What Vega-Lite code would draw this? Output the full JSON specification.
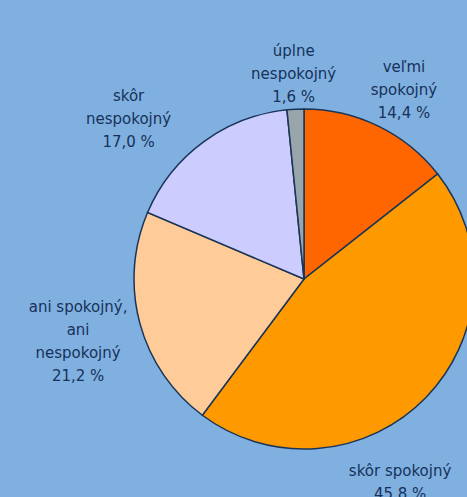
{
  "$schema": "https://vega.github.io/schema/vega-lite/v6.json",
  "width": 608,
  "height": 558,
  "autosize": "none",
  "padding": 0,
  "background": "#80B0E0",
  "view": {"stroke": null},
  "data": {
    "values": [
      {"hodnotenie": "veľmi spokojný", "podiel": 14.4, "poradie": 1, "popis": "veľmi\nspokojný\n14,4 %"},
      {"hodnotenie": "skôr spokojný", "podiel": 45.8, "poradie": 2, "popis": "skôr spokojný\n45,8 %"},
      {"hodnotenie": "ani spokojný, ani nespokojný", "podiel": 21.2, "poradie": 3, "popis": "ani spokojný,\nani\nnespokojný\n21,2 %"},
      {"hodnotenie": "skôr nespokojný", "podiel": 17.0, "poradie": 4, "popis": "skôr\nnespokojný\n17,0 %"},
      {"hodnotenie": "úplne nespokojný", "podiel": 1.6, "poradie": 5, "popis": "úplne\nnespokojný\n1,6 %"}
    ]
  },
  "encoding": {
    "theta": {"field": "podiel", "type": "quantitative", "stack": true},
    "order": {"field": "poradie", "type": "quantitative"}
  },
  "layer": [
    {
      "mark": {"type": "arc", "outerRadius": 170, "stroke": "#1A3557", "strokeWidth": 1.5},
      "encoding": {
        "color": {
          "field": "hodnotenie",
          "type": "nominal",
          "scale": {
            "domain": ["veľmi spokojný", "skôr spokojný", "ani spokojný, ani nespokojný", "skôr nespokojný", "úplne nespokojný"],
            "range": ["#FF6600", "#FF9900", "#FFCC99", "#CCCCFF", "#98A6AC"]
          },
          "legend": null
        }
      }
    },
    {
      "mark": {"type": "text", "radius": 215, "dx": 6, "dy": -19, "font": "DejaVu Sans", "fontSize": 15, "lineHeight": 23, "color": "#17325A", "baseline": "middle", "align": "center", "lineBreak": "\n"},
      "encoding": {"text": {"condition": {"test": "datum.poradie == 1", "field": "popis"}, "value": ""}}
    },
    {
      "mark": {"type": "text", "radius": 206, "dy": -22, "font": "DejaVu Sans", "fontSize": 15, "lineHeight": 23, "color": "#17325A", "baseline": "middle", "align": "center", "lineBreak": "\n"},
      "encoding": {"text": {"condition": {"test": "datum.poradie == 5", "field": "popis"}, "value": ""}}
    },
    {
      "mark": {"type": "text", "radius": 234, "dy": -33, "font": "DejaVu Sans", "fontSize": 15, "lineHeight": 23, "color": "#17325A", "baseline": "middle", "align": "center", "lineBreak": "\n"},
      "encoding": {"text": {"condition": {"test": "datum.poradie == 3", "field": "popis"}, "value": ""}}
    },
    {
      "mark": {"type": "text", "radius": 225, "dx": -42, "dy": -2, "font": "DejaVu Sans", "fontSize": 15, "lineHeight": 23, "color": "#17325A", "baseline": "middle", "align": "center", "lineBreak": "\n"},
      "encoding": {"text": {"condition": {"test": "datum.poradie == 4", "field": "popis"}, "value": ""}}
    },
    {
      "mark": {"type": "text", "radius": 225, "dx": -65, "dy": 35, "font": "DejaVu Sans", "fontSize": 15, "lineHeight": 23, "color": "#17325A", "baseline": "middle", "align": "center", "lineBreak": "\n"},
      "encoding": {"text": {"condition": {"test": "datum.poradie == 2", "field": "popis"}, "value": ""}}
    }
  ]
}
